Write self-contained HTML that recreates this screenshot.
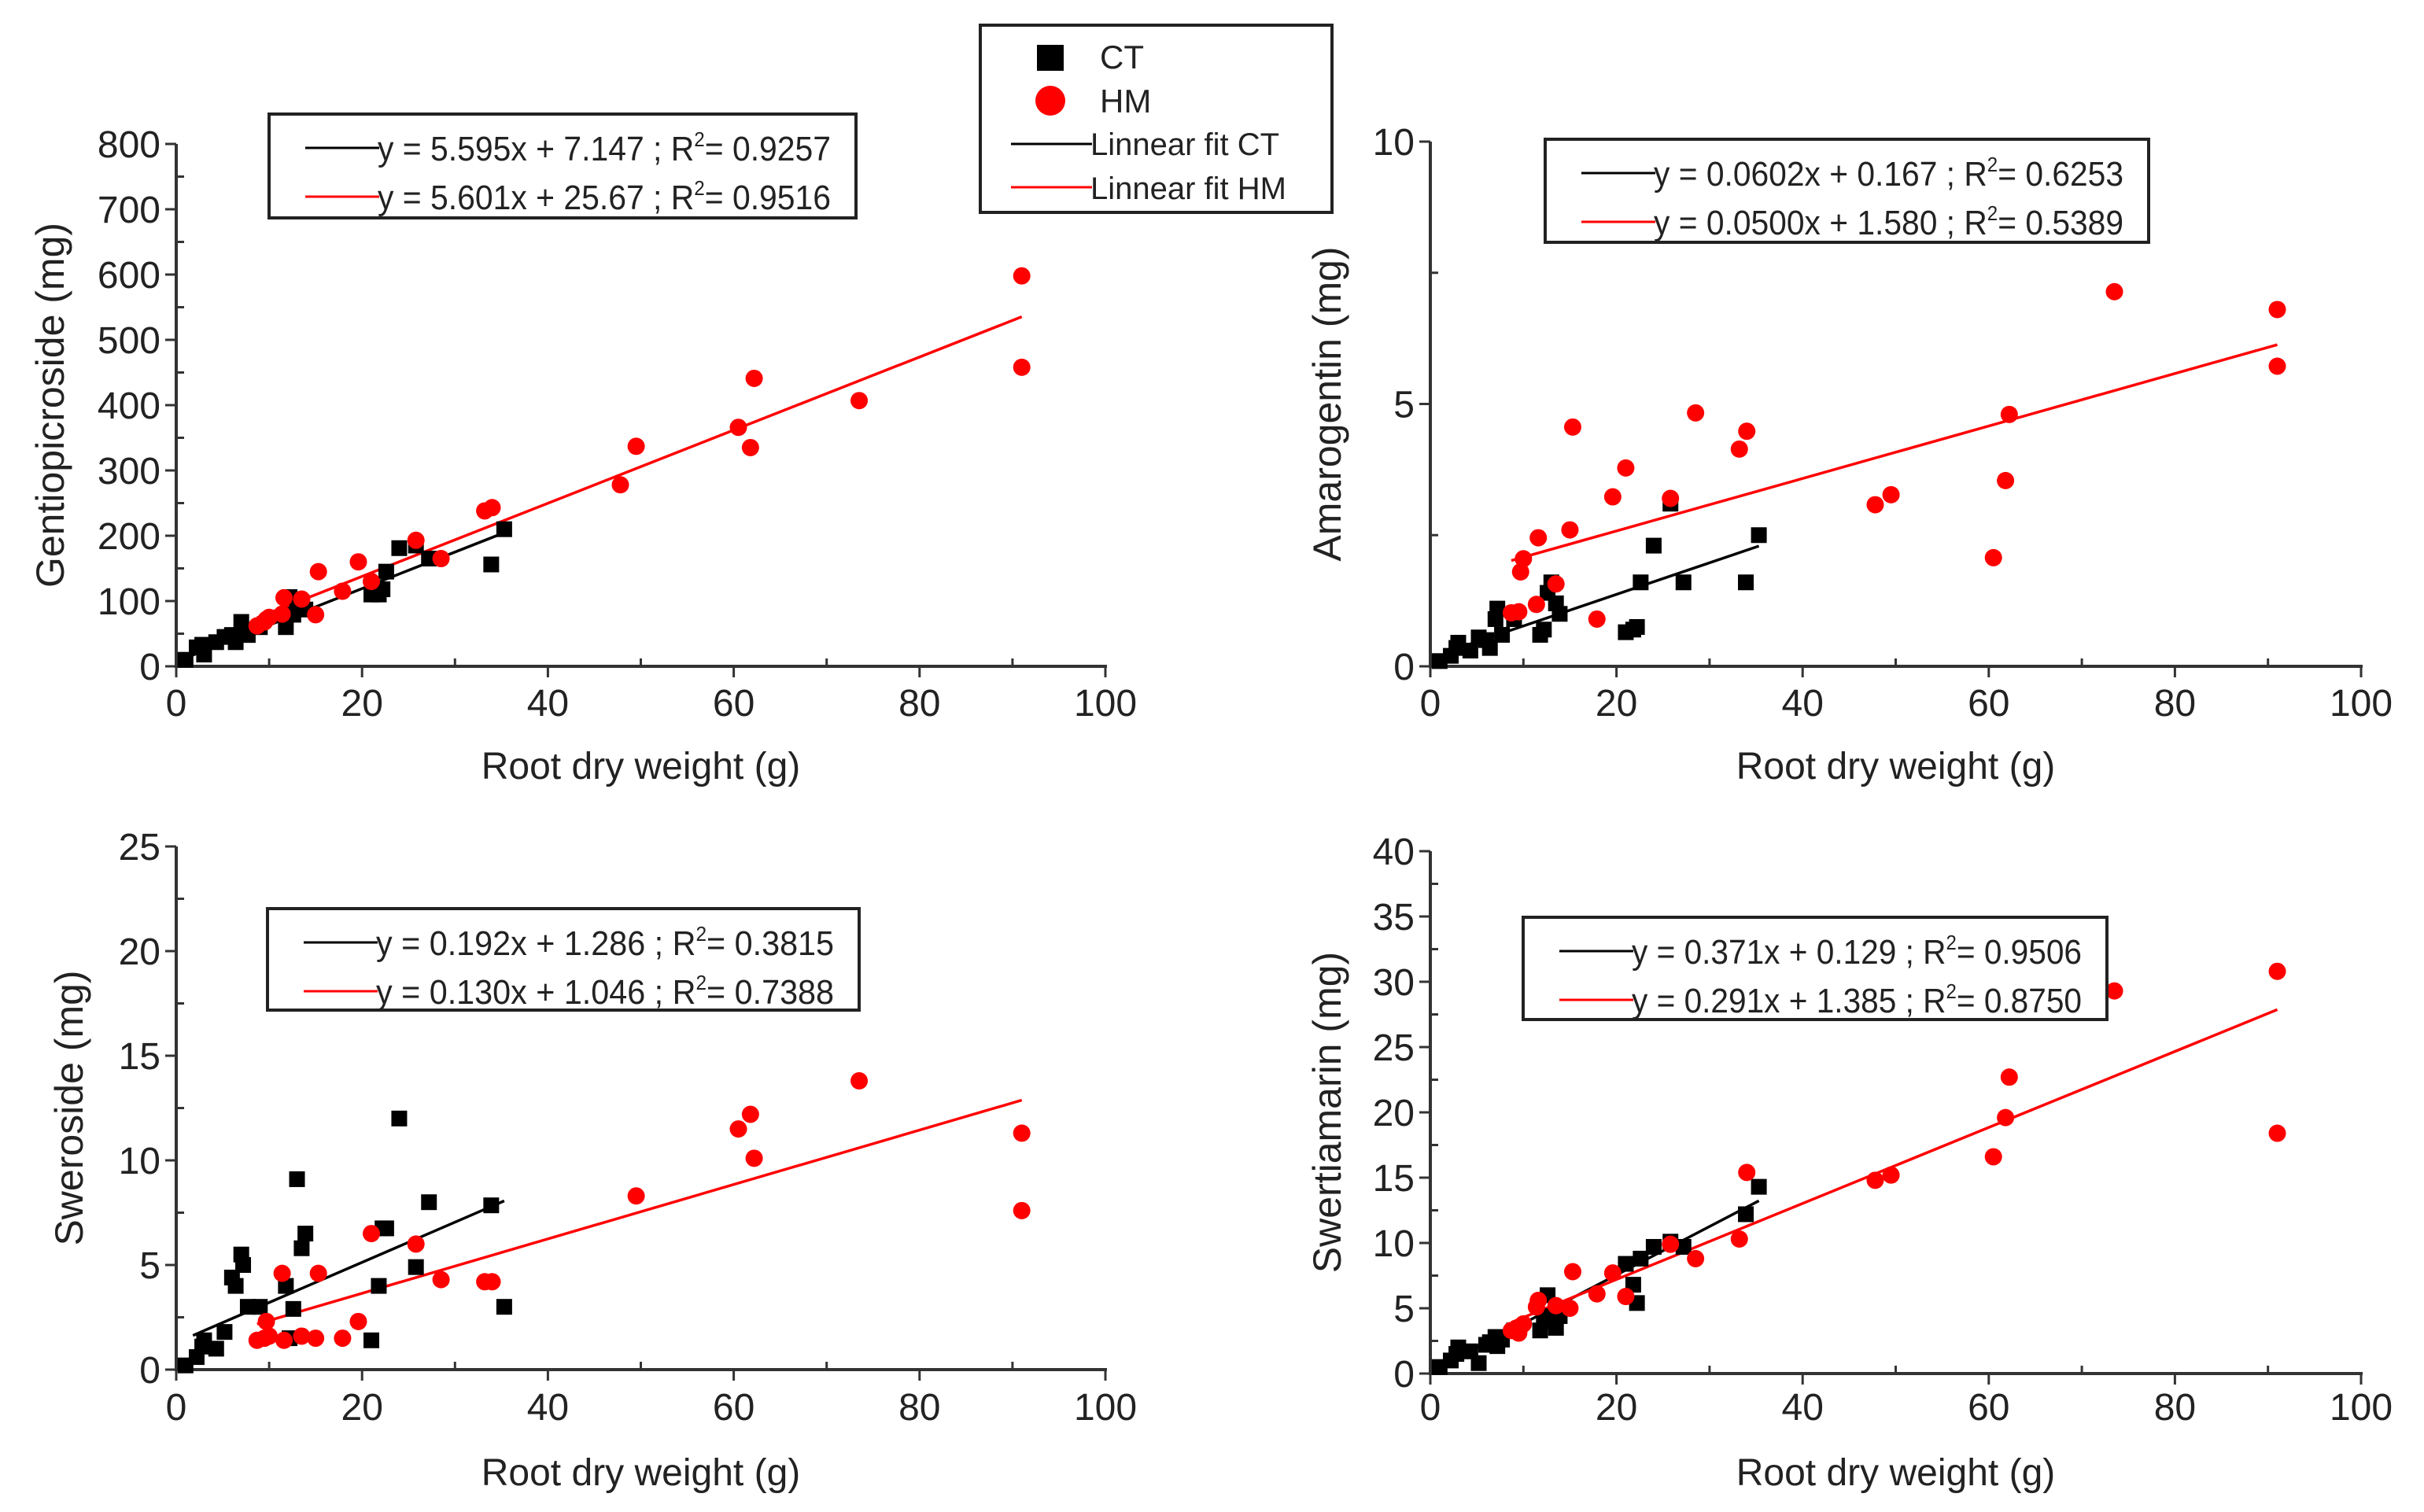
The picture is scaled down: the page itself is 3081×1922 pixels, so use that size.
<!DOCTYPE html>
<html><head><meta charset="utf-8"><style>
html,body{margin:0;padding:0;background:#fff;}
svg{display:block;font-family:"Liberation Sans",Arial,sans-serif;}
</style></head><body>
<svg id="chart" width="3081" height="1922" viewBox="0 0 3081 1922" xmlns="http://www.w3.org/2000/svg">
<rect width="3081" height="1922" fill="#fff"/>
<g id="legend">
  <rect x="1246" y="32" width="447" height="238" fill="#fff" stroke="#222" stroke-width="4"/>
  <rect x="1318" y="57" width="34" height="33" fill="#000"/>
  <text x="1398" y="87" font-size="42" fill="#222">CT</text>
  <circle cx="1335" cy="128" r="19" fill="#f00"/>
  <text x="1398" y="143" font-size="42" fill="#222">HM</text>
  <line x1="1285" y1="183" x2="1388" y2="183" stroke="#000" stroke-width="3"/>
  <text x="1386" y="197" font-size="40" fill="#222">Linnear fit CT</text>
  <line x1="1285" y1="238" x2="1388" y2="238" stroke="#f00" stroke-width="3"/>
  <text x="1386" y="253" font-size="40" fill="#222">Linnear fit HM</text>
</g>
</svg>
<script>
// Shared sample x values (root dry weight, g)
const ctX = [1,2.2,2.8,3,4.3,5.2,6,6.4,7,7.2,7.7,9,11.8,12.2,12.6,13,13.5,13.9,21,21.8,22.2,22.6,24,25.8,27.2,33.9,35.3];
const hmX = [8.7,9.5,9.7,10,11.4,11.6,13.5,15,15.3,17.9,19.6,21,25.8,28.5,33.2,34,47.8,49.5,60.5,61.8,62.2,73.5,91,91];
// Gentiopicroside
const gentioCT = [10,29,33,18,37,45,48,37,68,56,48,60,60,106,79,91,98,87,110,110,118,145,181,185,165,156,210];
const gentioHM = [62,68,72,75,80,105,103,79,145,115,160,130,193,165,238,243,278,337,366,335,441,407,598,458];
// Amarogentin
const amaroCT = [0.1,0.2,0.35,0.45,0.3,0.55,0.5,0.35,0.9,1.1,0.6,0.9,0.6,0.7,1.4,1.6,1.2,1.0,0.65,0.7,0.75,1.6,2.3,3.1,1.6,1.6,2.5];
const amaroHM = [1.02,1.04,1.8,2.05,1.18,2.45,1.57,2.6,4.56,0.9,3.23,3.78,3.2,4.83,4.14,4.48,3.08,3.27,2.07,3.54,4.8,7.14,6.8,5.72];
// Sweroside
const sweroCT = [0.2,0.6,1.1,1.4,1.0,1.8,4.4,4.0,5.5,5.0,3.0,3.0,4.0,1.5,2.9,9.1,5.8,6.5,1.4,4.0,6.75,6.75,12,4.9,8.0,7.85,3.0];
const sweroHM = [1.4,1.5,2.3,1.6,4.6,1.4,1.6,1.5,4.6,1.5,2.3,6.5,6.0,4.3,4.2,4.2,null,8.3,11.5,12.2,10.1,13.8,11.3,7.6];
// Swertiamarin
const swertCT = [0.5,1.0,1.5,2.0,1.7,0.8,2.2,2.4,2.8,2.1,2.6,3.3,3.3,4.0,6.0,4.4,3.5,4.4,8.4,6.8,5.4,8.8,9.7,10.1,9.7,12.2,14.3];
const swertHM = [3.3,3.1,3.6,3.8,5.1,5.6,5.2,5.0,7.8,6.1,7.7,5.9,9.9,8.8,10.3,15.4,14.8,15.2,16.6,19.6,22.7,29.3,30.8,18.4];
// Fit parameters [slope, intercept]
const fitSlopesCT = [5.595,0.0602,0.192,0.371];
const fitInterceptsCT = [7.147,0.167,1.286,0.129];
const fitSlopesHM = [5.601,0.0500,0.130,0.291];
const fitInterceptsHM = [25.67,1.580,1.046,1.385];
const fitLabelsCT = ["y = 5.595x + 7.147 ;  R","y = 0.0602x + 0.167 ;  R","y = 0.192x + 1.286 ;  R","y = 0.371x + 0.129 ;  R"];
const fitR2CT = ["= 0.9257","= 0.6253","= 0.3815","= 0.9506"];
const fitLabelsHM = ["y = 5.601x + 25.67 ;  R","y = 0.0500x + 1.580 ;  R","y = 0.130x + 1.046 ;  R","y = 0.291x + 1.385 ;  R"];
const fitR2HM = ["= 0.9516","= 0.5389","= 0.7388","= 0.8750"];
const yTitles = ["Gentiopicroside (mg)","Amarogentin (mg)","Sweroside (mg)","Swertiamarin (mg)"];
const yMaxes = [800,10,25,40];
const yMajorSteps = [100,5,5,5];
const xTicks = [0,20,40,60,80,100];

const NS="http://www.w3.org/2000/svg";
const svg=document.getElementById('chart');
function mk(tag,attrs,parent){const e=document.createElementNS(NS,tag);for(const k in attrs)e.setAttribute(k,attrs[k]);(parent||svg).appendChild(e);return e;}

const panels=[
 {x0:224,x1:1405,y0:847,yt:183,box:[342,145,746,132],ytx:64,xt:[893,973],ct:gentioCT,hm:gentioHM},
 {x0:1818,x1:3001,y0:847,yt:180,box:[1964,177,767,131],ytx:1687,xt:[893,973],ct:amaroCT,hm:amaroHM},
 {x0:224,x1:1405,y0:1741,yt:1076,box:[340,1155,752,129],ytx:88,xt:[1788,1871],ct:sweroCT,hm:sweroHM},
 {x0:1818,x1:3001,y0:1746,yt:1082,box:[1936,1166,742,130],ytx:1687,xt:[1788,1871],ct:swertCT,hm:swertHM}
];
const pnames=['gentiopicroside','amarogentin','sweroside','swertiamarin'];

panels.forEach((p,i)=>{
 const g=mk('g',{});
 
 
 const xs=v=>p.x0+(v/100)*(p.x1-p.x0);
 const ys=v=>p.y0-(v/yMaxes[i])*(p.y0-p.yt);
 // axes
 const xa=mk('line',{x1:p.x0-2,y1:p.y0,x2:p.x1+2,y2:p.y0,stroke:'#333','stroke-width':4},g);
 
 
 const ya=mk('line',{x1:p.x0,y1:p.y0+2,x2:p.x0,y2:p.yt,stroke:'#333','stroke-width':4},g);
 
 
 // x ticks
 for(let v=0;v<=100;v+=10){
   const major=v%20===0;
   mk('line',{x1:xs(v),y1:p.y0,x2:xs(v),y2:major?p.y0+14:p.y0-10,stroke:'#333','stroke-width':3},g);
 }
 xTicks.forEach(v=>{
   const t=mk('text',{x:xs(v),y:p.xt[0]+17,'font-size':48,'text-anchor':'middle',fill:'#222'},g);
   t.textContent=v;
   
   
 });
 const xt=mk('text',{x:(p.x0+p.x1)/2,y:p.xt[1]+17,'font-size':48,'text-anchor':'middle',fill:'#222'},g);
 xt.textContent='Root dry weight (g)';
 
 
 // y ticks
 const st=yMajorSteps[i];
 for(let v=0;v<=yMaxes[i]+1e-9;v+=st/2){
   const major=Math.abs(v/st-Math.round(v/st))<1e-6;
   mk('line',{x1:p.x0,y1:ys(v),x2:major?p.x0-14:p.x0+10,y2:ys(v),stroke:'#333','stroke-width':3},g);
   if(major){
     const t=mk('text',{x:p.x0-20,y:ys(v)+17,'font-size':48,'text-anchor':'end',fill:'#222'},g);
     t.textContent=Math.round(v);
     
     
   }
 }
 const cy=(p.y0+p.yt)/2;
 const yt=mk('text',{x:p.ytx+17,y:cy,'font-size':50,'text-anchor':'middle',fill:'#222',transform:`rotate(-90 ${p.ytx+17} ${cy})`},g);
 yt.textContent=yTitles[i];
 
 
 // fit lines
 const cta=1.8, ctb=35.3, hma=hmX[0], hmb=91;
 const fc=mk('line',{x1:xs(cta),y1:ys(fitSlopesCT[i]*cta+fitInterceptsCT[i]),x2:xs(ctb),y2:ys(fitSlopesCT[i]*ctb+fitInterceptsCT[i]),stroke:'#000','stroke-width':3.5},g);
 
 
 const fh=mk('line',{x1:xs(hma),y1:ys(fitSlopesHM[i]*hma+fitInterceptsHM[i]),x2:xs(hmb),y2:ys(fitSlopesHM[i]*hmb+fitInterceptsHM[i]),stroke:'#f00','stroke-width':3.5},g);
 
 
 // points
 ctX.forEach((x,j)=>{
   const v=p.ct[j]; if(v==null) return;
   const r=mk('rect',{x:xs(x)-10,y:ys(v)-10,width:20,height:20,fill:'#000'},g);
   
   
 });
 hmX.forEach((x,j)=>{
   const v=p.hm[j]; if(v==null) return;
   const c=mk('circle',{cx:xs(x),cy:ys(v),r:11,fill:'#f00'},g);
   
   
 });
 // equation box
 const [bx,by,bw,bh]=p.box;
 const eb=mk('g',{},g);
 
 
 mk('rect',{x:bx,y:by,width:bw,height:bh,fill:'#fff',stroke:'#222','stroke-width':4},eb);
 [[fitLabelsCT[i],fitR2CT[i],'#000',43],[fitLabelsHM[i],fitR2HM[i],'#f00',105]].forEach(([lab,r2,col,dy])=>{
   mk('line',{x1:bx+46,y1:by+dy,x2:bx+140,y2:by+dy,stroke:col,'stroke-width':3},eb);
   const t=mk('text',{x:bx+138,y:by+dy+16,'font-size':44,fill:'#222',textLength:bw-170,lengthAdjust:'spacingAndGlyphs'},eb);
   
   
   const s1=mk('tspan',{},t); s1.textContent=lab;
   const s2=mk('tspan',{dy:-18,'font-size':26},t); s2.textContent='2';
   const s3=mk('tspan',{dy:18},t); s3.textContent=r2;
 });
});
</script>
</body></html>
